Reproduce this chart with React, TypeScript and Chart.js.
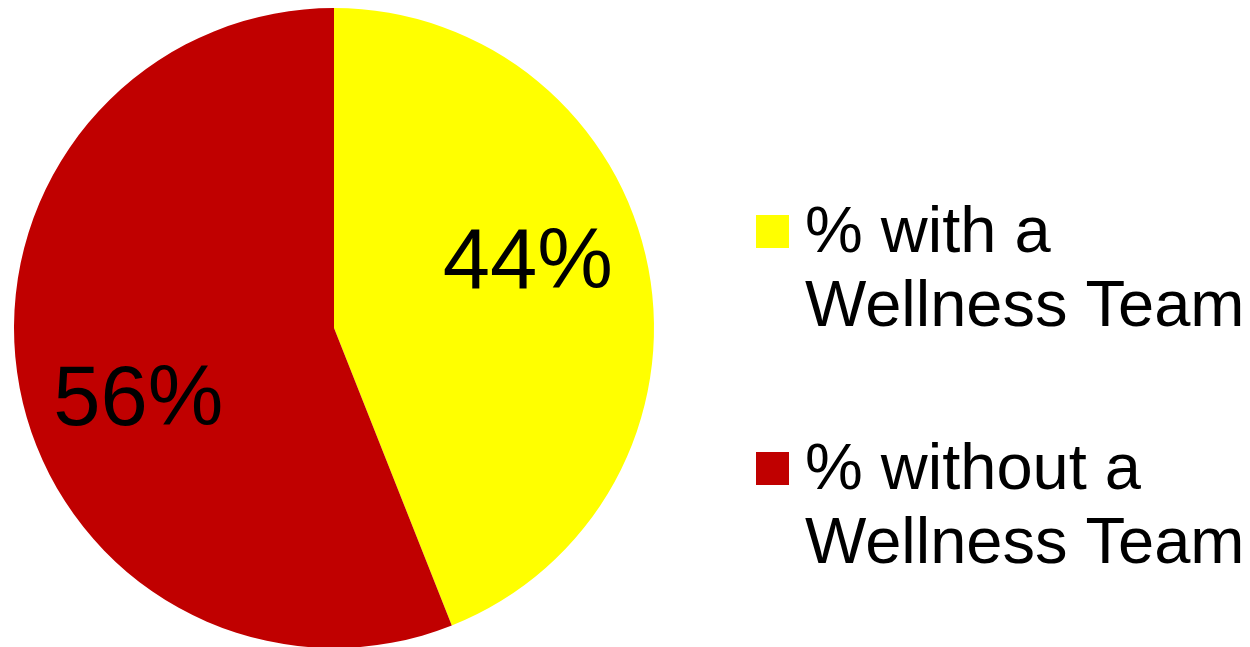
import React, { useEffect, useRef } from "react";
import { Chart, registerables } from "chart.js";

Chart.register(...registerables);

const categories: string[][] = [["% with a", "Wellness Team"], ["% without a", "Wellness Team"]];
const values: number[] = [44, 56];
const valueLabels: string[] = ["44%", "56%"];
const colors: string[] = ["#FFFF00", "#C00000"];

const FONT = '"Liberation Sans", Arial, sans-serif';

const labelPlugin = {
  id: "sliceLabels",
  afterDatasetsDraw(chart: any) {
    const ctx = chart.ctx;
    const meta = chart.getDatasetMeta(0);
    ctx.save();
    ctx.fillStyle = "#000";
    ctx.font = `85px ${FONT}`;
    ctx.textAlign = "center";
    ctx.textBaseline = "middle";
    meta.data.forEach((arc: any, i: number) => {
      const p = arc.getProps(["x", "y", "startAngle", "endAngle", "outerRadius"], true);
      const mid = (p.startAngle + p.endAngle) / 2 - (8.5 * Math.PI) / 180;
      const d = p.outerRadius * 0.645;
      ctx.fillText(valueLabels[i], p.x + Math.cos(mid) * d - 1, p.y + Math.sin(mid) * d + 5);
    });
    ctx.restore();
  },
};

const legendPlugin = {
  id: "customLegend",
  afterDraw(chart: any) {
    const ctx = chart.ctx;
    ctx.save();
    const boxX = 756;
    const boxSize = 33;
    const textX = 805;
    const firstBaselines = [252, 489];
    const lineGap = 74;
    ctx.font = `65px ${FONT}`;
    ctx.textAlign = "left";
    ctx.textBaseline = "alphabetic";
    categories.forEach((lines, i) => {
      const b = firstBaselines[i];
      ctx.fillStyle = colors[i];
      ctx.fillRect(boxX, b - 37, boxSize, boxSize);
      ctx.fillStyle = "#000";
      lines.forEach((t, j) => ctx.fillText(t, textX, b + j * lineGap));
    });
    ctx.restore();
  },
};

export default function App() {
  const ref = useRef<HTMLCanvasElement | null>(null);
  useEffect(() => {
    document.body.style.margin = "0";
    const chart = new Chart(ref.current as HTMLCanvasElement, {
      type: "pie",
      data: {
        labels: categories.map((c) => c.join(" ")),
        datasets: [
          {
            data: values,
            backgroundColor: colors,
            borderWidth: 0,
            hoverOffset: 0,
          },
        ],
      },
      options: {
        responsive: false,
        animation: false,
        events: [],
        layout: { padding: { left: 14, right: 596, top: 8, bottom: 12 } },
        plugins: {
          legend: { display: false },
          tooltip: { enabled: false },
          title: { display: false },
        },
      },
      plugins: [labelPlugin, legendPlugin],
    });
    return () => chart.destroy();
  }, []);
  return (
    <div style={{ position: "relative", width: 1250, height: 647, overflow: "hidden", background: "#fff" }}>
      <canvas ref={ref} width={1250} height={660} style={{ position: "absolute", left: 0, top: 0, width: 1250, height: 660 }} />
    </div>
  );
}
